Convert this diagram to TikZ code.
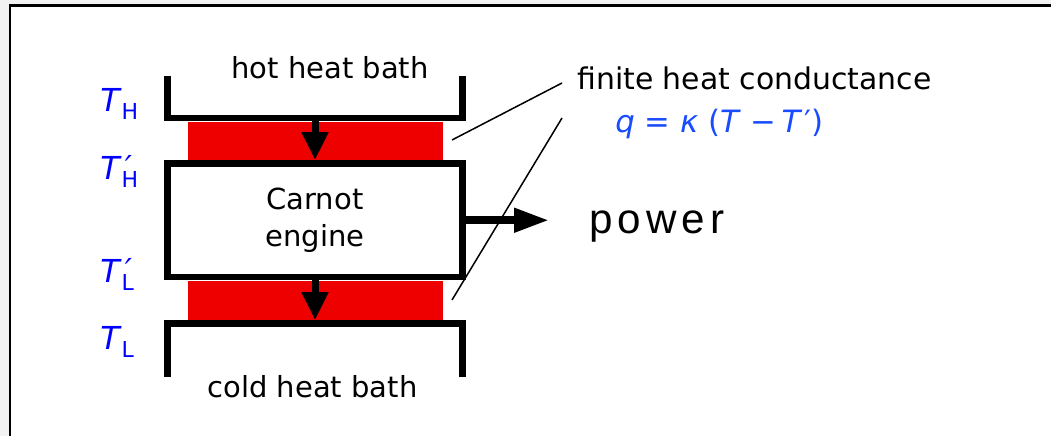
\documentclass[tikz,border=0pt]{standalone}
\usepackage{fontspec}
\setmainfont{DejaVu Sans}
\newfontfamily\powerfont[LetterSpace=12]{Liberation Sans}
\usetikzlibrary{arrows.meta}
\definecolor{bathred}{RGB}{238,0,0}
\definecolor{pagegray}{RGB}{242,242,242}
\definecolor{tblue}{RGB}{0,0,255}
\definecolor{qblue}{RGB}{25,75,255}
\newcommand{\Tlab}[2]{\textit{T}\rlap{\kern0.1em\raisebox{0.05em}{\textit{#2}}}\raisebox{-0.16cm}{\fontsize{12.5}{14}\selectfont #1}}

\begin{document}
\begin{tikzpicture}[every node/.style={font=\fontsize{16.5}{21}\selectfont, inner sep=0pt},
	wall/.style={line width=0.13cm},
	flow/.style={line width=0.14cm, -{Triangle[width=0.5cm,length=0.56cm]}},
	temp/.style={text=tblue, font=\fontsize{18}{20}\selectfont, anchor=base west},
	leader/.style={line width=0.03cm}]
	\useasboundingbox (0,0) rectangle (21.02,8.72);
	\clip (0,0) rectangle (21.02,8.72);
	\fill[pagegray] (0,0) rectangle (21.02,8.72);
	\filldraw[fill=white, line width=0.06cm] (0.2,-1) rectangle (22,8.6);
	\fill[bathred] (3.76,5.52) rectangle (8.86,6.28);
	\fill[bathred] (3.76,2.32) rectangle (8.86,3.1);
	\draw[wall] (3.35,7.2) |- (9.25,6.36) -- (9.25,7.2);
	\draw[wall] (3.35,1.18) |- (9.25,2.25) -- (9.25,1.18);
	\coordinate (hot) at (6.3,6.36);
	\coordinate (cold) at (6.3,2.315);
	\coordinate (tip) at (10.98,4.3);
	\node[draw, wall, minimum width=5.9cm, minimum height=2.27cm, align=center] (engine) at (6.3,4.315) {Carnot\\engine};
	\draw[flow] (hot) -- (engine.north);
	\draw[flow] (engine.south) -- (cold);
	\draw[line width=0.15cm, -{Triangle[width=0.46cm,length=0.7cm]}] (engine.east) -- (engine.east -| tip);
	\node[anchor=base] (hotlbl) at (6.6,7.14) {hot heat bath};
	\node[anchor=base] (coldlbl) at (6.25,0.78) {cold heat bath};
	\node[anchor=base west, font=\fontsize{17}{20}\selectfont] (cond) at (11.54,6.92) {finite heat conductance};
	\node[anchor=base west, text=qblue, font=\fontsize{17.5}{20}\selectfont] (law) at (12.3,6.06) {\textit{q} = \textit{κ} (\textit{T} −\,\textit{T}\kern0.08em′)};
	\node[anchor=base west, font=\powerfont\fontsize{24}{28}\selectfont] (power) at (11.78,4.04) {power};
	\node[temp] (tH) at (2.0,6.48) {\Tlab{H}{}};
	\node[temp] (tHp) at (2.0,5.12) {\Tlab{H}{′}};
	\node[temp] (tLp) at (2.0,3.06) {\Tlab{L}{′}};
	\node[temp] (tL) at (2.0,1.72) {\Tlab{L}{}};
	\coordinate (gapH) at (9.04,5.92);
	\coordinate (gapL) at (9.04,2.72);
	\coordinate (condA) at (11.24,7.06);
	\coordinate (condB) at (11.24,6.36);
	\draw[leader] (gapH) -- (condA);
	\draw[leader] (gapL) -- (condB);
\end{tikzpicture}
\end{document}
